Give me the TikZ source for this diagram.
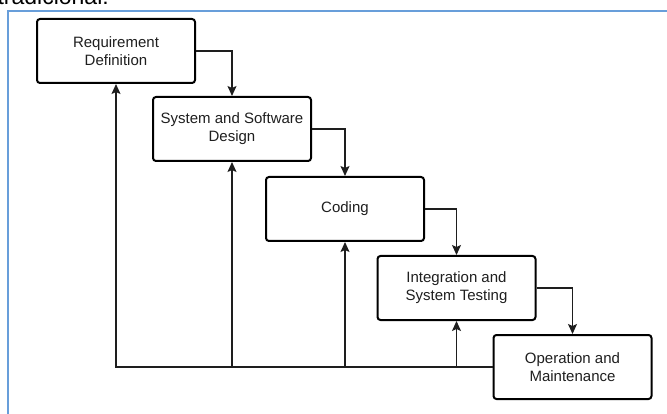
\documentclass[tikz,border=0pt]{standalone}
\usepackage{fontspec}
\setmainfont{Liberation Sans}
\usetikzlibrary{arrows.meta,calc}
\definecolor{frameblue}{RGB}{104,158,218}
\definecolor{linegray}{RGB}{30,30,30}
\tikzset{
  stage/.style={draw=black, line width=2pt, rounded corners=3pt, fill=white,
    minimum width=158pt, minimum height=64pt, align=center, inner sep=0pt,
    font=\fontsize{15pt}{18pt}\selectfont, text=black!88},
  flow/.style={draw=linegray, line width=1.3pt, -{Stealth[length=10pt,width=9pt,inset=2pt]}},
}
\begin{document}
\begin{tikzpicture}[x=1pt,y=-1pt]
\useasboundingbox (0,0) rectangle (667,414);
\begin{scope}
\clip (0,0) rectangle (667,414);
\node[anchor=base east, font=\fontsize{23pt}{25pt}\selectfont, inner sep=0pt] (title) at (109,5) {tradicional:};
\end{scope}
\draw[frameblue, line width=2pt] (8,414) -- (8,11) -- (667,11);

\node[stage] (req) at (116,51) {Requirement\\Definition};
\node[stage] (des) at (232,129) {System and Software\\Design};
\node[stage] (cod) at (345,209) {Coding};
\node[stage] (int) at (456.5,288) {Integration and\\System Testing};
\node[stage] (ope) at (572.5,367) {Operation and\\Maintenance};

\draw[flow] (req.east) -| (des.north);
\draw[flow] (des.east) -| (cod.north);
\draw[flow] (cod.east) -| (int.north);
\draw[flow] (int.east) -| (ope.north);

\draw[flow] (ope.west) -| (req.south);
\draw[flow] (des.south |- ope.west) -- (des.south);
\draw[flow] (cod.south |- ope.west) -- (cod.south);
\draw[flow] (int.south |- ope.west) -- (int.south);
\end{tikzpicture}
\end{document}
